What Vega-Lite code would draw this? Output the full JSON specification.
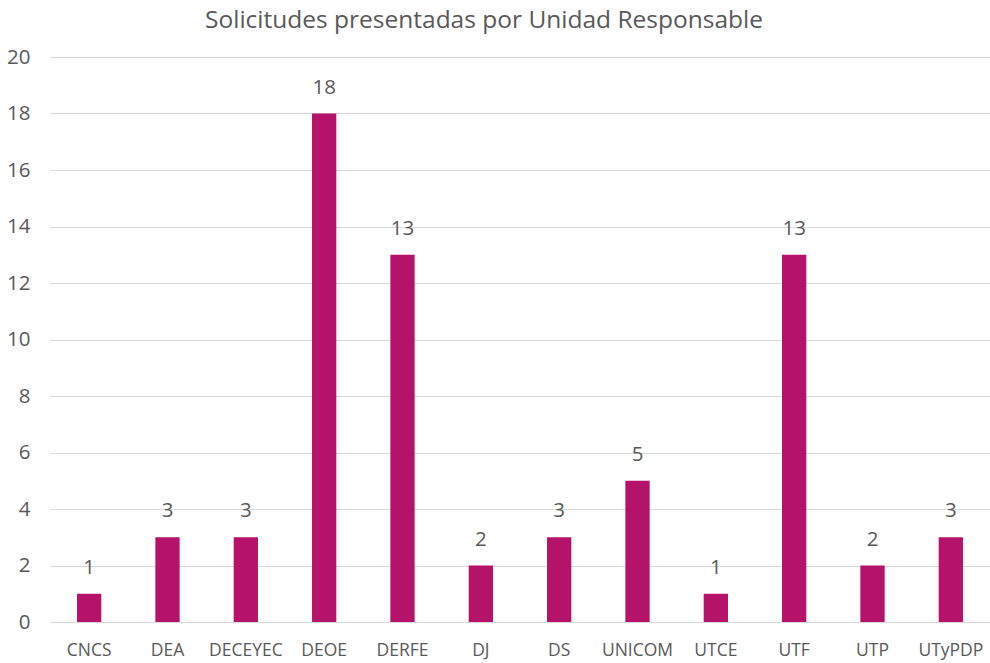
{
  "$schema": "https://vega.github.io/schema/vega-lite/v6.json",
  "width": 940,
  "height": 565,
  "autosize": {"type": "none"},
  "padding": {"left": 50, "top": 57, "right": 0, "bottom": 41},
  "background": "white",
  "config": {"view": {"stroke": null}, "font": "Open Sans"},
  "title": {"text": "Solicitudes presentadas por Unidad Responsable", "fontSize": 24.5, "fontWeight": "normal", "color": "#595959", "offset": 14, "dx": -36, "anchor": "middle", "font": "Open Sans"},
  "data": {"values": [
    {"unidad": "CNCS", "n": 1},
    {"unidad": "DEA", "n": 3},
    {"unidad": "DECEYEC", "n": 3},
    {"unidad": "DEOE", "n": 18},
    {"unidad": "DERFE", "n": 13},
    {"unidad": "DJ", "n": 2},
    {"unidad": "DS", "n": 3},
    {"unidad": "UNICOM", "n": 5},
    {"unidad": "UTCE", "n": 1},
    {"unidad": "UTF", "n": 13},
    {"unidad": "UTP", "n": 2},
    {"unidad": "UTyPDP", "n": 3}
  ]},
  "encoding": {
    "x": {"field": "unidad", "type": "nominal", "sort": null,
      "scale": {"paddingInner": 0.69, "paddingOuter": 0.345},
      "axis": {"title": null, "labelAngle": 0, "domain": false, "ticks": false, "labelFontSize": 17.5, "labelColor": "#595959", "labelPadding": 19, "labelFont": "Open Sans"}},
    "y": {"field": "n", "type": "quantitative",
      "scale": {"domain": [0, 20]},
      "axis": {"title": null, "values": [0,2,4,6,8,10,12,14,16,18,20], "domain": false, "ticks": false, "gridColor": "#D9D9D9", "gridWidth": 1, "labelFontSize": 20.5, "labelColor": "#595959", "labelPadding": 20, "labelFont": "Open Sans"}}
  },
  "layer": [
    {"mark": {"type": "bar", "color": "#B5136A"}},
    {"mark": {"type": "text", "dy": -26, "fontSize": 20.5, "color": "#595959", "font": "Open Sans"},
     "encoding": {"text": {"field": "n", "type": "quantitative"}}}
  ]
}
